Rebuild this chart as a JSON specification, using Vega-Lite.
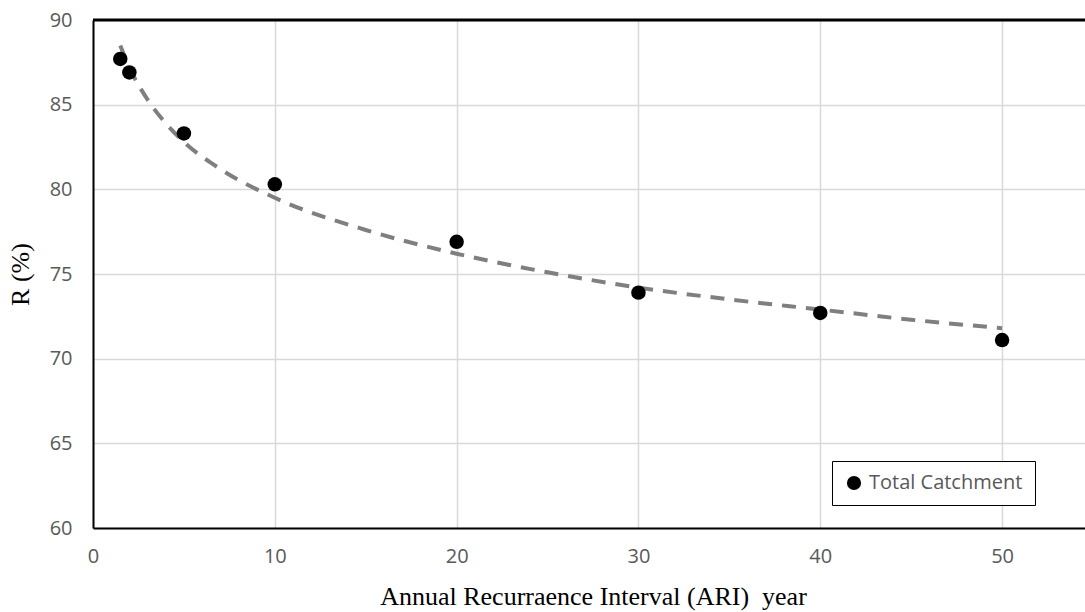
{
  "$schema": "https://vega.github.io/schema/vega-lite/v6.json",
  "autosize": {"type": "none"},
  "padding": {"left": 93, "top": 20, "right": 0, "bottom": 84},
  "width": 1000,
  "height": 508,
  "background": "white",
  "config": {
    "view": {"stroke": null},
    "axis": {
      "labelFont": "Open Sans",
      "labelFontSize": 20,
      "labelColor": "#595959",
      "labelFlush": false,
      "titleFont": "Liberation Serif",
      "titleFontSize": 26,
      "titleFontWeight": "normal",
      "titleColor": "#000000",
      "gridColor": "#d9d9d9",
      "gridWidth": 1.5,
      "ticks": false,
      "domainColor": "#000000",
      "domainWidth": 2
    }
  },
  "datasets": {
    "pts": [
      {"ari": 1.5, "r": 87.7, "series": "Total Catchment"},
      {"ari": 2, "r": 86.9, "series": "Total Catchment"},
      {"ari": 5, "r": 83.3, "series": "Total Catchment"},
      {"ari": 10, "r": 80.3, "series": "Total Catchment"},
      {"ari": 20, "r": 76.9, "series": "Total Catchment"},
      {"ari": 30, "r": 73.9, "series": "Total Catchment"},
      {"ari": 40, "r": 72.7, "series": "Total Catchment"},
      {"ari": 50, "r": 71.1, "series": "Total Catchment"}
    ],
    "trend": [
      {"ari": 1.5, "r": 88.5},
      {"ari": 2, "r": 87.2},
      {"ari": 3, "r": 85.3},
      {"ari": 4, "r": 83.9},
      {"ari": 5, "r": 82.8},
      {"ari": 7, "r": 81.2},
      {"ari": 10, "r": 79.5},
      {"ari": 15, "r": 77.6},
      {"ari": 20, "r": 76.2},
      {"ari": 25, "r": 75.1},
      {"ari": 30, "r": 74.2},
      {"ari": 35, "r": 73.5},
      {"ari": 40, "r": 72.9},
      {"ari": 45, "r": 72.3},
      {"ari": 50, "r": 71.8}
    ]
  },
  "layer": [
    {
      "data": {"name": "trend"},
      "mark": {"type": "line", "color": "#7f7f7f", "strokeWidth": 4, "strokeDash": [14, 10], "interpolate": "monotone"},
      "encoding": {
        "x": {
          "field": "ari", "type": "quantitative",
          "scale": {"domain": [0, 55], "nice": false},
          "axis": {"values": [0, 10, 20, 30, 40, 50], "title": "Annual Recurraence Interval (ARI)\u00a0 year", "labelPadding": 18, "titlePadding": 17}
        },
        "y": {
          "field": "r", "type": "quantitative",
          "scale": {"domain": [60, 90], "nice": false, "zero": false},
          "axis": {"values": [60, 65, 70, 75, 80, 85, 90], "title": "R (%)", "labelPadding": 21, "titlePadding": 16}
        }
      }
    },
    {
      "data": {"name": "pts"},
      "mark": {"type": "point", "filled": true, "opacity": 1, "size": 210},
      "encoding": {
        "x": {"field": "ari", "type": "quantitative"},
        "y": {"field": "r", "type": "quantitative"},
        "color": {
          "field": "series", "type": "nominal",
          "scale": {"range": ["#000000"]},
          "legend": {
            "title": null,
            "orient": "none",
            "legendX": 739,
            "legendY": 441,
            "strokeColor": "#000000",
            "fillColor": "white",
            "padding": 12,
            "labelFont": "Open Sans",
            "labelFontSize": 20,
            "labelLimit": 400,
            "labelColor": "#595959",
            "symbolSize": 200,
            "symbolType": "circle",
            "labelOffset": 5
          }
        }
      }
    },
    {
      "data": {"values": [{"y": 90}]},
      "mark": {"type": "rule", "color": "#000000", "strokeWidth": 3},
      "encoding": {"y": {"field": "y", "type": "quantitative"}}
    }
  ]
}
